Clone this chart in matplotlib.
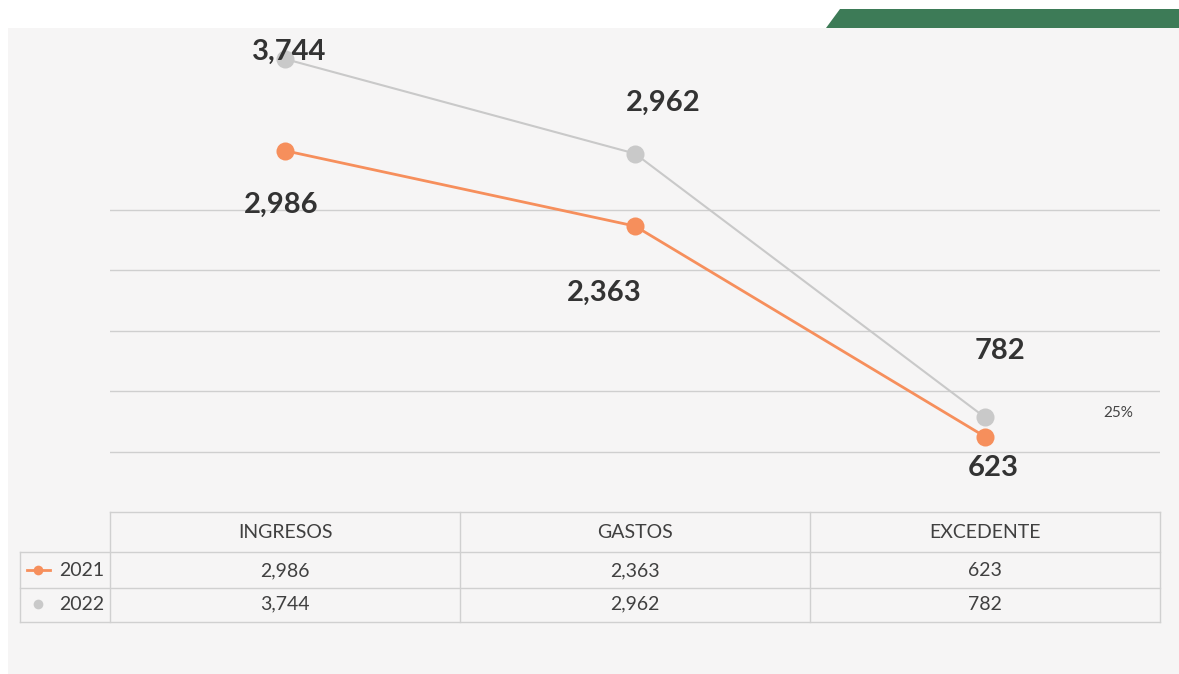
import matplotlib
matplotlib.use("Agg")
import matplotlib.pyplot as plt
from matplotlib.patches import Rectangle, Polygon
from matplotlib.lines import Line2D

categories = ["INGRESOS", "GASTOS", "EXCEDENTE"]
series_names = ["2021", "2022"]
values_2021 = [2986, 2363, 623]
values_2022 = [3744, 2962, 782]
grid_ticks = [500, 1000, 1500, 2000, 2500]
side_note = "25%"

W, H = 1179, 674
fig = plt.figure(figsize=(W / 100, H / 100), dpi=100)
fig.patch.set_facecolor("white")
plt.rcParams["font.family"] = ["Lato", "DejaVu Sans"]

def fx(px):
    return px / W

def fy(py):
    return 1 - py / H

# background panel
fig.patches.append(Rectangle((fx(8), fy(674)), fx(1171), 646 / H, transform=fig.transFigure,
                             facecolor="#f6f5f5", edgecolor="none", zorder=-10))
# green band top right
fig.patches.append(Polygon([(fx(826), fy(28)), (fx(840), fy(9)), (fx(1179), fy(9)), (fx(1179), fy(28))],
                           closed=True, transform=fig.transFigure, facecolor="#3d7b57",
                           edgecolor="none", zorder=-5))

ax = fig.add_axes([fx(110), fy(512), fx(1050), 484 / H])
ax.set_zorder(2)
ax.set_facecolor("none")
ax.patch.set_alpha(0)
ax.set_xlim(-0.5, 2.5)
ax.set_ylim(0, 4000)
for s in ax.spines.values():
    s.set_visible(False)
ax.set_xticks([])
ax.set_yticks(grid_ticks)
ax.tick_params(axis="y", length=0, labelleft=False)
ax.grid(axis="y", color="#cfcfcf", linewidth=1)

orange = "#f68f5c"
gray = "#c9c9c9"
x = list(range(len(categories)))
ax.plot(x, values_2022, color=gray, linewidth=1.5, marker="o", markersize=13,
        markeredgewidth=0, zorder=3)
ax.plot(x, values_2021, color=orange, linewidth=2, marker="o", markersize=13,
        markeredgewidth=0, zorder=4)

lab_kw = dict(textcoords="offset pixels", ha="center", va="center", fontsize=21,
              fontweight="bold", color="#333333", zorder=5)
off_2021 = [(-4, -54), (-31, -67), (8, -31)]
off_2022 = [(4, 7), (28, 51), (15, 66)]
for i, v in enumerate(values_2021):
    ax.annotate(f"{v:,}", (x[i], v), xytext=off_2021[i], **lab_kw)
for i, v in enumerate(values_2022):
    ax.annotate(f"{v:,}", (x[i], v), xytext=off_2022[i], **lab_kw)

fig.text(fx(1118), fy(413), side_note, ha="center", va="center", fontsize=11, color="#444444")

# data table
line_c = "#d0d0d0"
def hline(y, x0, x1):
    fig.add_artist(Line2D([fx(x0), fx(x1)], [fy(y), fy(y)], transform=fig.transFigure,
                          color=line_c, linewidth=1))
def vline(xp, y0, y1):
    fig.add_artist(Line2D([fx(xp), fx(xp)], [fy(y0), fy(y1)], transform=fig.transFigure,
                          color=line_c, linewidth=1))

hline(512, 110, 1160)
hline(552, 20, 1160)
hline(588, 20, 1160)
hline(622, 20, 1160)
for xp in [110, 460, 810, 1160]:
    vline(xp, 512, 622)
vline(20, 552, 622)

col_centers = [285, 635, 985]
tkw = dict(ha="center", va="center", fontsize=14, color="#404040")
for c, name in zip(col_centers, categories):
    fig.text(fx(c), fy(533), name, **tkw)
for c, v in zip(col_centers, values_2021):
    fig.text(fx(c), fy(571), f"{v:,}", **tkw)
for c, v in zip(col_centers, values_2022):
    fig.text(fx(c), fy(604), f"{v:,}", **tkw)

fig.add_artist(Line2D([fx(27), fx(50)], [fy(570), fy(570)], transform=fig.transFigure,
                      color=orange, linewidth=2))
fig.add_artist(Line2D([fx(38)], [fy(570)], transform=fig.transFigure, color=orange,
                      marker="o", markersize=7, markeredgewidth=0))
fig.add_artist(Line2D([fx(38)], [fy(604)], transform=fig.transFigure, color=gray,
                      marker="o", markersize=7, markeredgewidth=0))
fig.text(fx(82), fy(571), series_names[0], **tkw)
fig.text(fx(82), fy(604), series_names[1], **tkw)

fig.savefig("out.png", dpi=100)
